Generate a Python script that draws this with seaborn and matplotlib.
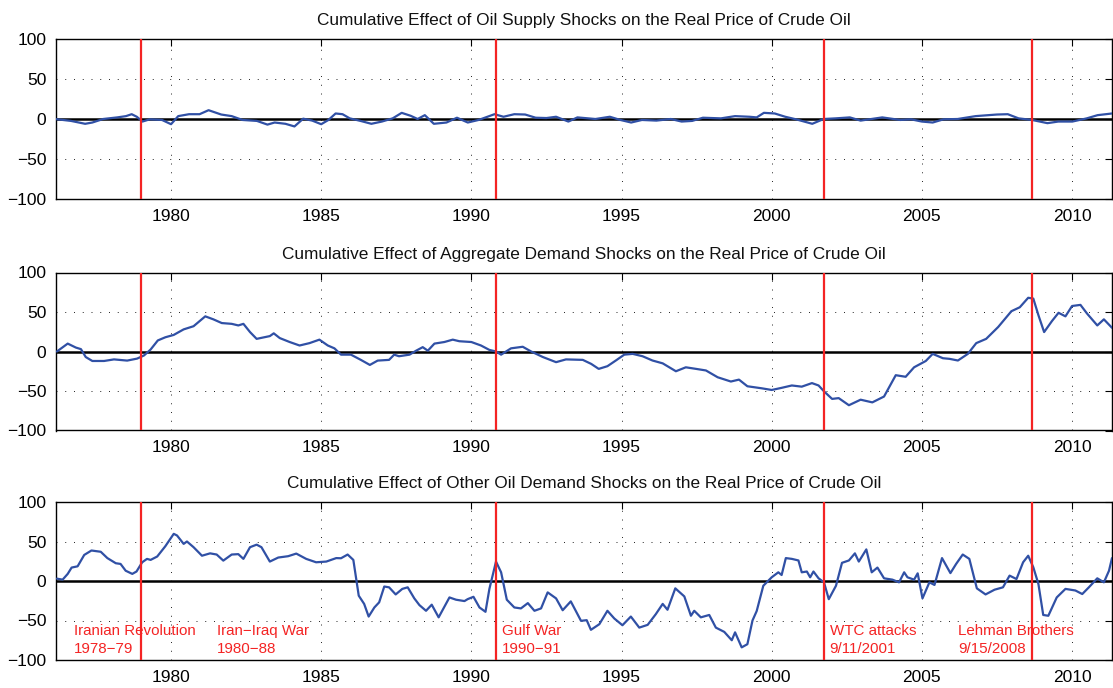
import numpy as np
import pandas as pd
import matplotlib
matplotlib.use("Agg")
import matplotlib.pyplot as plt
import seaborn as sns

# ---------------- data ----------------
supply_t = [1976.13, 1976.67, 1977.14, 1977.38, 1977.74, 1978.21, 1978.5, 1978.69, 1978.86, 1979.05,
            1979.29, 1979.7, 1980.0, 1980.24, 1980.6, 1980.95, 1981.25, 1981.67, 1982.02, 1982.38,
            1982.86, 1983.21, 1983.45, 1983.81, 1984.11, 1984.4, 1984.7, 1985.0, 1985.24, 1985.48,
            1985.71, 1985.95, 1986.31, 1986.67, 1987.02, 1987.38, 1987.68, 1987.98, 1988.21, 1988.45,
            1988.75, 1989.17, 1989.52, 1989.88, 1990.24, 1990.77, 1991.07, 1991.43, 1991.79, 1992.14,
            1992.5, 1992.82, 1993.23, 1993.53, 1994.13, 1994.61, 1994.96, 1995.32, 1995.68, 1996.16,
            1996.64, 1997.0, 1997.35, 1997.71, 1998.31, 1998.78, 1999.26, 1999.5, 1999.74, 2000.1,
            2000.45, 2000.81, 2001.35, 2001.73, 2002.13, 2002.6, 2002.96, 2003.68, 2004.28, 2004.64,
            2005.0, 2005.36, 2005.72, 2006.19, 2006.79, 2007.5, 2007.86, 2008.22, 2008.67, 2009.18,
            2009.54, 2010.01, 2010.49, 2010.85, 2011.33]
supply_v = [0, -2.4, -6, -4.4, 0, 2, 3.6, 6, 2.8, -3.2,
            -0.4, -1.2, -6.5, 3.6, 6, 6, 11, 5.6, 3.6, -1.2,
            -2.4, -7, -4.4, -6, -9.3, 0.4, -2, -6.5, -1.2, 6.9,
            6, 0.8, -2.4, -6, -3.2, 0.8, 7.7, 4, 0, 4.8,
            -6, -4.4, 1.6, -4.4, -1.2, 6, 2.8, 6, 5.6, 1.6,
            1.2, 2.8, -3.2, 2, 0, 2.8, -1.2, -4.4, -1.2, -2,
            0, -3.2, -2.4, 1.6, 0.8, 3.6, 2.8, 2, 7.7, 6.9,
            2.8, -0.4, -6, 0, 0.8, 2, -2, 2, -1.2, -0.4,
            -3.2, -4.4, -0.4, 0, 3.6, 5.6, 6, 0.8, -1.2, -5.2,
            -3.2, -3.2, 0.8, 4.8, 6.9]

aggdem_t = [1976.2, 1976.56, 1976.83, 1977.0, 1977.16, 1977.38, 1977.77, 1978.1, 1978.54, 1978.87,
            1979.1, 1979.32, 1979.56, 1979.81, 1980.09, 1980.42, 1980.75, 1981.14, 1981.41, 1981.69,
            1982.02, 1982.24, 1982.41, 1982.63, 1982.85, 1983.29, 1983.42, 1983.62, 1983.95, 1984.28,
            1984.61, 1984.94, 1985.22, 1985.44, 1985.66, 1985.99, 1986.32, 1986.62, 1986.88, 1987.26,
            1987.43, 1987.59, 1987.94, 1988.16, 1988.38, 1988.55, 1988.77, 1989.1, 1989.38, 1989.6,
            1990.0, 1990.32, 1990.6, 1990.82, 1990.99, 1991.32, 1991.71, 1991.99, 1992.38, 1992.82,
            1993.15, 1993.71, 1993.99, 1994.24, 1994.53, 1994.81, 1995.09, 1995.37, 1995.7, 1996.03,
            1996.37, 1996.81, 1997.14, 1997.48, 1997.81, 1998.2, 1998.64, 1998.91, 1999.19, 1999.67,
            2000.0, 2000.33, 2000.67, 2001.0, 2001.34, 2001.56, 2001.74, 2002.01, 2002.23, 2002.57,
            2002.96, 2003.35, 2003.74, 2004.13, 2004.46, 2004.74, 2005.13, 2005.36, 2005.7, 2005.92,
            2006.2, 2006.53, 2006.81, 2007.14, 2007.54, 2007.98, 2008.26, 2008.54, 2008.71, 2008.88,
            2009.07, 2009.33, 2009.55, 2009.78, 2010.0, 2010.28, 2010.5, 2010.84, 2011.06, 2011.33]
aggdem_v = [0, 10, 5, 3, -7, -12, -12, -10, -11.5, -9,
            -5, 2.5, 14, 18, 21, 28, 32, 44.5, 40.7, 36,
            35, 33, 35, 24.6, 16, 19.5, 23, 17, 12, 7.6,
            10.6, 15, 7.6, 4, -4, -4, -10.6, -17, -11.5, -10.6,
            -4, -6, -4, 1, 5.5, 1, 10, 12, 15, 13,
            12, 7.6, 2, 0, -4, 4, 6, 0, -7, -13.5,
            -10, -10.6, -15.7, -22, -18.6, -11.4, -4, -3, -6, -11.4,
            -15, -25, -20, -22, -24, -32.6, -38, -35.6, -44, -46.6,
            -48.7, -46, -43, -44.5, -40, -43, -50.4, -60, -59, -68,
            -61, -64.4, -57, -30, -32, -20, -12, -3, -8.5, -9.3,
            -11.4, -3, 10.6, 16, 31, 51, 56, 68, 67, 46,
            24.6, 38.5, 49, 44.5, 57.6, 59, 48, 33, 40.7, 30]

other_t = [1976.2, 1976.39, 1976.56, 1976.69, 1976.89, 1977.11, 1977.35, 1977.66, 1977.88, 1978.16,
           1978.32, 1978.49, 1978.71, 1978.85, 1979.04, 1979.2, 1979.32, 1979.54, 1979.81, 1980.09,
           1980.2, 1980.42, 1980.53, 1980.75, 1981.03, 1981.3, 1981.52, 1981.74, 1982.02, 1982.24,
           1982.41, 1982.63, 1982.85, 1983.01, 1983.29, 1983.57, 1983.9, 1984.17, 1984.5, 1984.83,
           1985.17, 1985.5, 1985.66, 1985.88, 1986.07, 1986.25, 1986.43, 1986.58, 1986.77, 1986.93,
           1987.1, 1987.26, 1987.48, 1987.7, 1987.88, 1988.1, 1988.27, 1988.49, 1988.68, 1988.91,
           1989.27, 1989.49, 1989.77, 1989.88, 1990.07, 1990.27, 1990.47, 1990.6, 1990.82, 1990.99,
           1991.18, 1991.43, 1991.65, 1991.88, 1992.1, 1992.32, 1992.54, 1992.82, 1993.04, 1993.31,
           1993.65, 1993.84, 1993.98, 1994.26, 1994.53, 1994.76, 1995.03, 1995.31, 1995.59, 1995.87,
           1996.14, 1996.37, 1996.53, 1996.79, 1997.09, 1997.31, 1997.42, 1997.64, 1997.92, 1998.14,
           1998.42, 1998.67, 1998.78, 1999.0, 1999.19, 1999.36, 1999.5, 1999.72, 2000.0, 2000.22,
           2000.33, 2000.47, 2000.67, 2000.89, 2001.0, 2001.17, 2001.28, 2001.39, 2001.56, 2001.74,
           2001.9, 2002.14, 2002.34, 2002.57, 2002.77, 2002.9, 2003.15, 2003.33, 2003.52, 2003.74,
           2004.02, 2004.24, 2004.41, 2004.52, 2004.74, 2004.86, 2005.02, 2005.25, 2005.42, 2005.67,
           2005.95, 2006.14, 2006.36, 2006.58, 2006.83, 2007.12, 2007.42, 2007.7, 2007.92, 2008.15,
           2008.37, 2008.54, 2008.71, 2008.88, 2009.04, 2009.21, 2009.49, 2009.78, 2010.11, 2010.34,
           2010.56, 2010.84, 2011.06, 2011.23, 2011.33]
other_v = [3, 1.7, 9, 17, 18.6, 33, 38.6, 37, 29, 22.5,
           21.6, 13, 9, 12, 23.7, 28, 26.7, 31, 44, 59.7,
           57.6, 47, 50, 42.8, 32, 35, 33.5, 25.8, 33.5, 34,
           28, 42.8, 46, 42.8, 24.6, 29.7, 31.4, 34.7, 28, 23.7,
           24.6, 29, 28.8, 33.5, 26.7, -18.6, -29, -45, -33.5, -27,
           -7, -8, -17, -10, -8, -22, -30.5, -37.7, -30, -46,
           -20.8, -23.7, -25.4, -22.9, -20, -33.5, -39, -10, 24.6, 11,
           -23.7, -33.5, -34.7, -28, -37.7, -34.7, -14.4, -22, -37, -25.8,
           -50.4, -49.6, -61.8, -54.7, -37.7, -47.5, -56, -45, -59, -55.5,
           -42, -29, -36.4, -9.3, -19.5, -44, -37.7, -46, -43, -59,
           -64.4, -75, -65, -84, -80, -50, -38, -6, 4.7, 11,
           7.6, 29, 28, 26, 11, 12, 4.7, 12, 3.4, -1.7,
           -23, -6, 23, 26, 35, 24.6, 40, 11, 17, 3.4,
           1.7, -1.7, 11, 4.7, 1.7, 9.7, -22, -1.7, -5, 29,
           10, 21.6, 33.5, 28, -9.3, -17, -11, -8, 6.8, 2.5,
           23.7, 32, 17.4, -3.8, -43, -44, -20.8, -10, -12, -16.5,
           -8, 3.4, -1.7, 13, 29]

titles = [
    "Cumulative Effect of Oil Supply Shocks on the Real Price of Crude Oil",
    "Cumulative Effect of Aggregate Demand Shocks on the Real Price of Crude Oil",
    "Cumulative Effect of Other Oil Demand Shocks on the Real Price of Crude Oil",
]

event_dates = [1979.0, 1990.82, 2001.73, 2008.67]
event_labels = ["Iranian Revolution\n1978\u221279", "Iran\u2212Iraq War\n1980\u221288",
                "Gulf War\n1990\u221291", "WTC attacks\n9/11/2001",
                "Lehman Brothers\n9/15/2008"]
event_label_x = [1976.77, 1981.54, 1991.02, 2001.93, 2006.21]

x_ticks = [1980, 1985, 1990, 1995, 2000, 2005, 2010]
y_ticks = [-100, -50, 0, 50, 100]

# ---------------- styling ----------------
sns.set_theme(style="white")
plt.rcParams["font.family"] = ["Liberation Sans", "DejaVu Sans"]
plt.rcParams["axes.unicode_minus"] = True

BLUE = "#3050A5"
RED = "#F42424"

fig = plt.figure(figsize=(11.13, 6.88), dpi=100)
left, width = 56 / 1113, (1112 - 56) / 1113
panel_boxes = [
    (left, 1 - 199 / 688, width, 160 / 688),
    (left, 1 - 430.5 / 688, width, 158 / 688),
    (left, 1 - 660 / 688, width, 158 / 688),
]

series = [(supply_t, supply_v), (aggdem_t, aggdem_v), (other_t, other_v)]

for i, (box, (t, v), title) in enumerate(zip(panel_boxes, series, titles)):
    ax = fig.add_axes(box)
    df = pd.DataFrame({"year": t, "effect": v})
    ax.axhline(0, color="black", linewidth=1.8, zorder=2)
    sns.lineplot(data=df, x="year", y="effect", ax=ax, color=BLUE,
                 linewidth=1.6, estimator=None, sort=False, zorder=3)
    for d in event_dates:
        ax.axvline(d, color=RED, linewidth=1.6, zorder=4)

    ax.set_xlim(1976.17, 2011.33)
    ax.set_ylim(-100, 100)
    ax.set_xticks(x_ticks)
    ax.set_yticks(y_ticks)
    ax.set_xlabel("")
    ax.set_ylabel("")
    ax.grid(True, color="#222222", linestyle=(0, (1, 8)), linewidth=0.7, zorder=1)
    ax.tick_params(direction="in", top=True, right=True, length=5, width=0.8,
                   labelsize=12.5, colors="black", pad=7)
    for s in ax.spines.values():
        s.set_color("black")
        s.set_linewidth(1.0)
        s.set_visible(True)
    ax.set_title(title, fontsize=12.4, pad=10, color="#111111")

    if i == 2:
        for lx, lab in zip(event_label_x, event_labels):
            ax.text(lx, -54, lab, color=RED, fontsize=10.9, ha="left", va="top",
                    linespacing=1.4, zorder=5)

fig.savefig("out.png", dpi=100, facecolor="white")
